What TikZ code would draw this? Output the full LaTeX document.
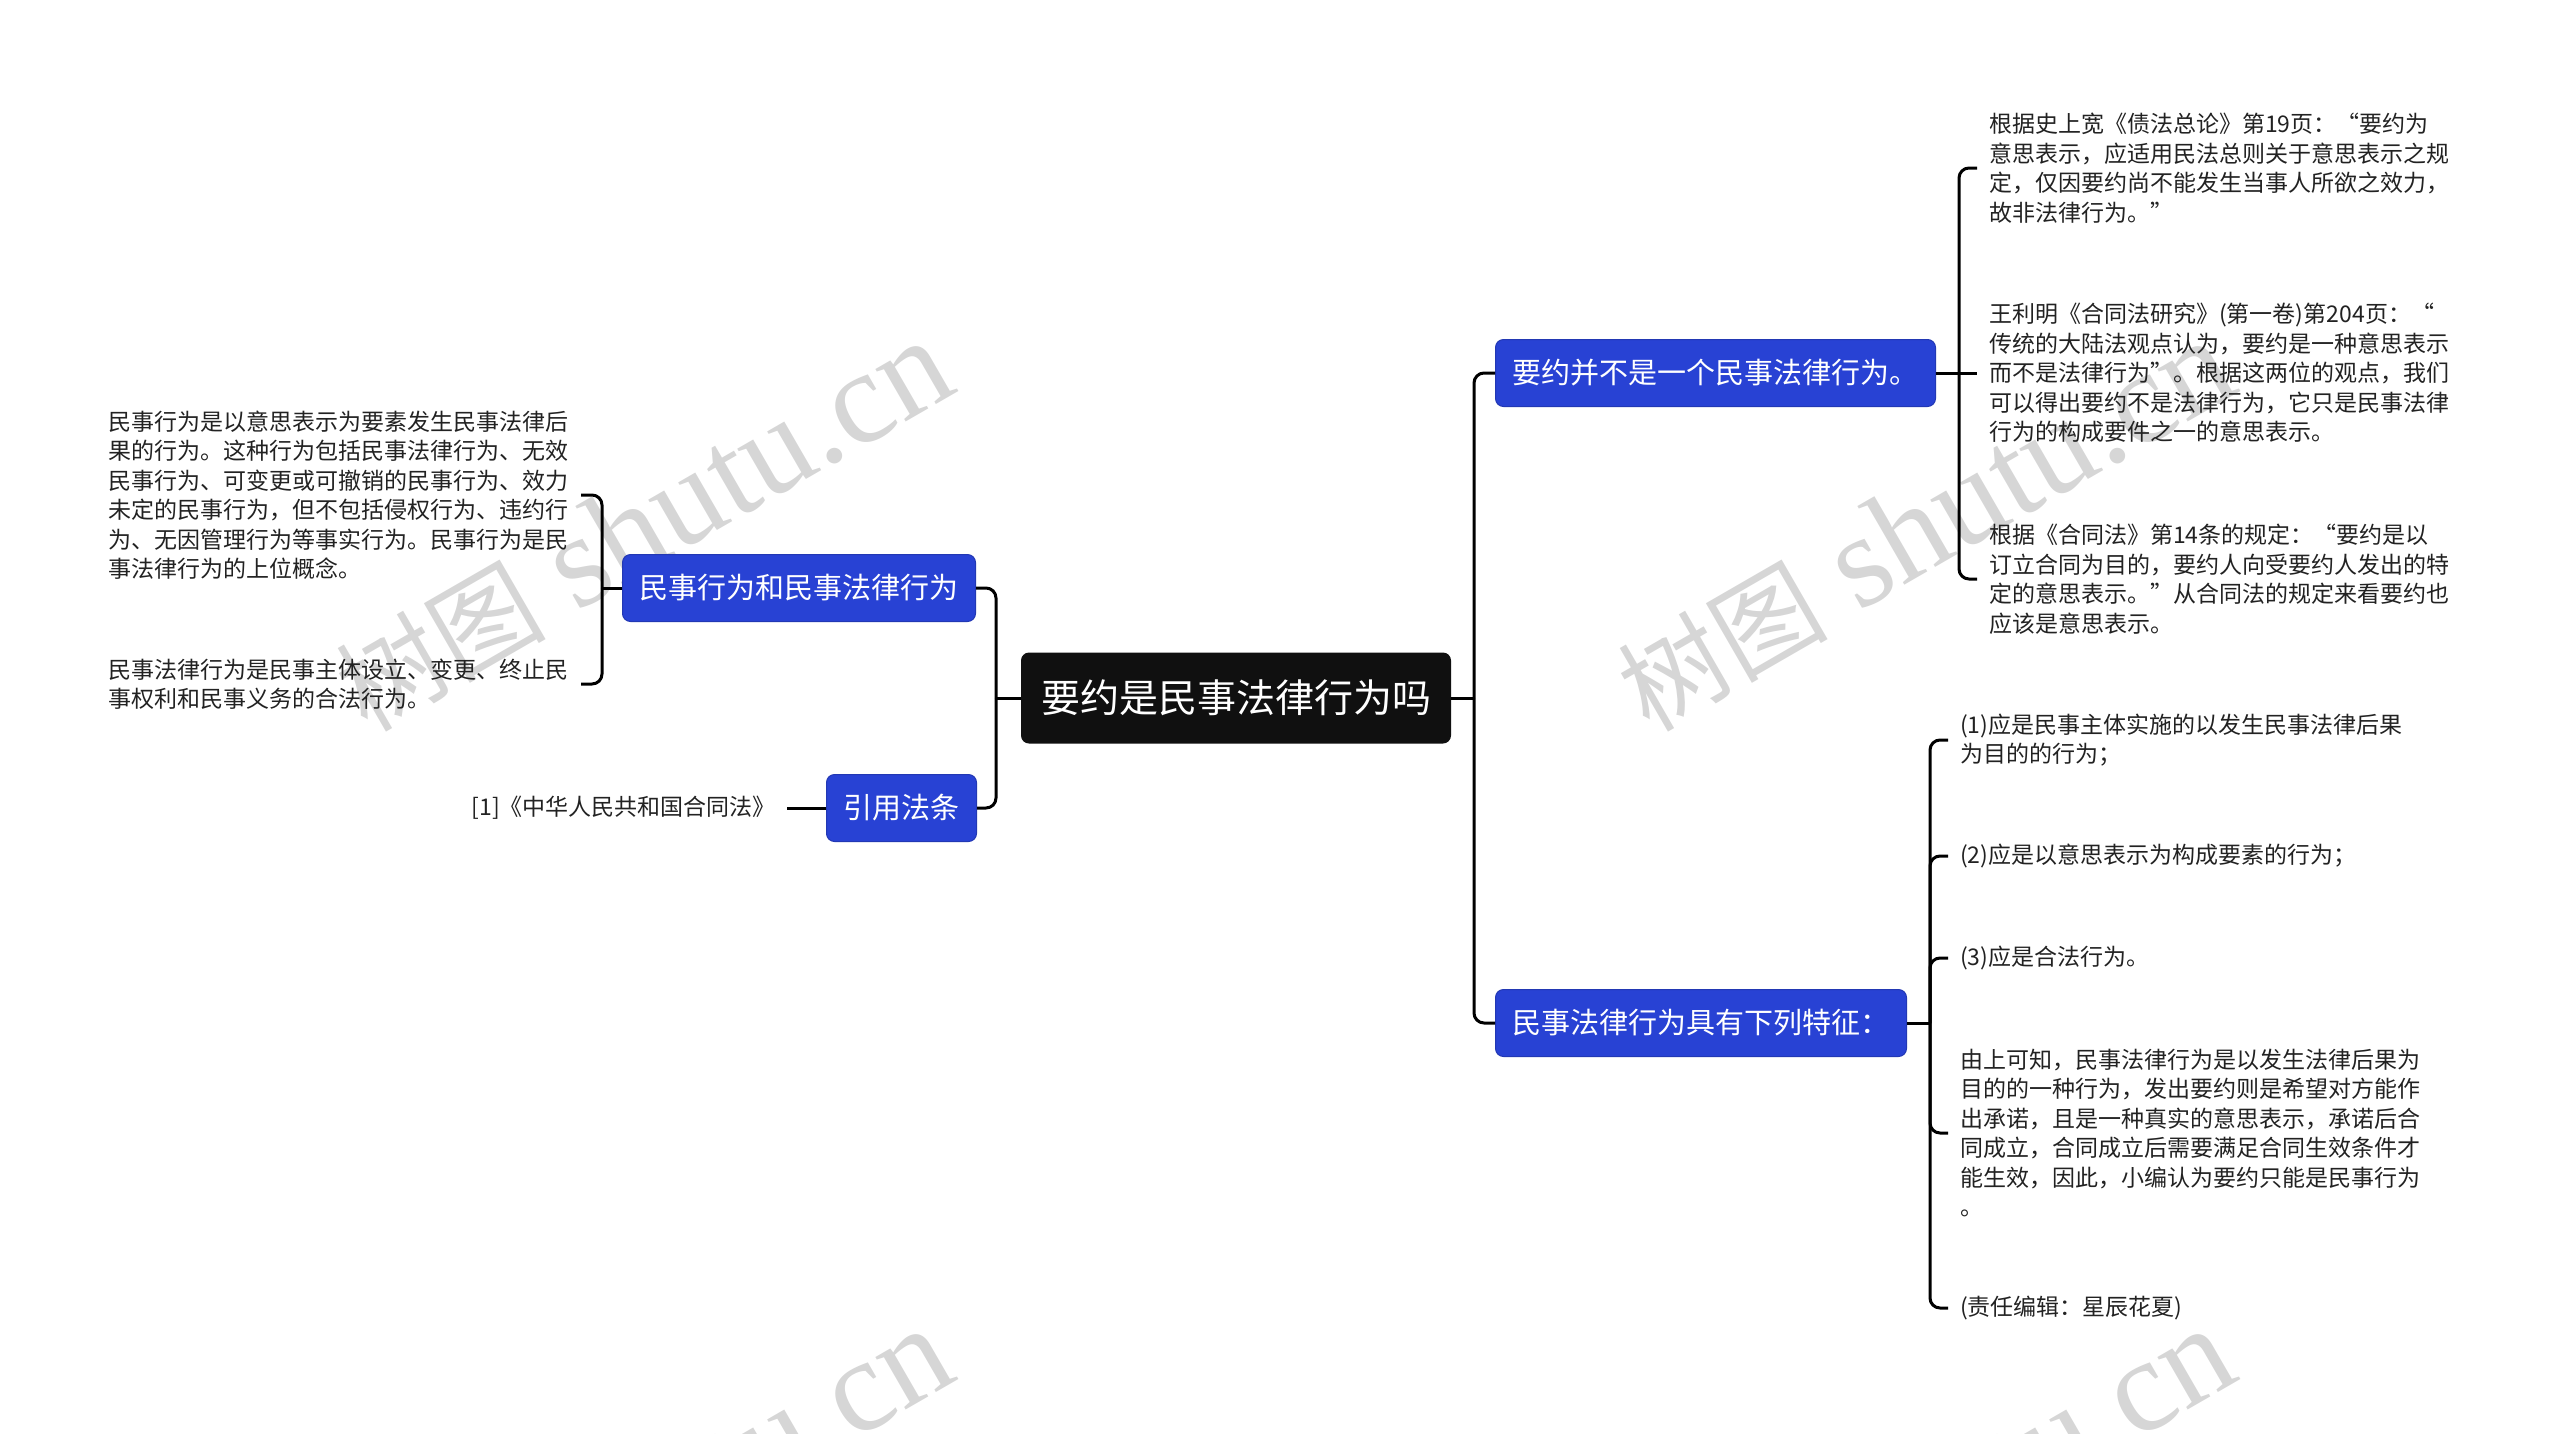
\documentclass[tikz,border=0pt]{standalone}
\usepackage{fontspec}
\setmainfont{Noto Sans CJK SC}
\newfontfamily\wmlatin{Liberation Serif}
\definecolor{bblue}{RGB}{40,66,212}
\definecolor{rootc}{RGB}{16,16,16}
\definecolor{wmc}{RGB}{214,214,214}
\definecolor{leafc}{RGB}{34,34,34}
\tikzset{
  conn/.style={line width=3pt, draw=black},
  rconn/.style={conn, rounded corners=10pt},
  rootbox/.style={fill=rootc, text=white, rounded corners=8pt, font=\fontsize{39}{45}\selectfont, inner xsep=20pt, inner ysep=0pt, minimum height=91pt},
  bbox/.style={fill=bblue, draw=bblue!85!black, line width=1pt, text=white, rounded corners=8pt, font=\fontsize{29}{34}\selectfont, inner xsep=17pt, inner ysep=0pt, minimum height=67pt},
  leaf/.style={font=\fontsize{23}{29.5}\selectfont, align=left, inner xsep=12pt, inner ysep=3pt, text=leafc},
  wmark/.style={text=wmc, rotate=30, inner sep=0pt}
}
\begin{document}
\begin{tikzpicture}[x=1pt,y=-1pt]
\useasboundingbox (0,0) rectangle (2560,1433);
\begin{scope}
\clip (0,0) rectangle (2560,1433);
\node[wmark] (wm1) at (643,526) {\fontsize{105}{110}\selectfont 树图\hspace{0.3em}{\wmlatin\fontsize{132}{140}\selectfont shutu.cn}};
\node[wmark] (wm2) at (1925,526) {\fontsize{105}{110}\selectfont 树图\hspace{0.3em}{\wmlatin\fontsize{132}{140}\selectfont shutu.cn}};
\node[wmark] (wm3) at (643,1514) {\fontsize{105}{110}\selectfont 树图\hspace{0.3em}{\wmlatin\fontsize{132}{140}\selectfont shutu.cn}};
\node[wmark] (wm4) at (1925,1514) {\fontsize{105}{110}\selectfont 树图\hspace{0.3em}{\wmlatin\fontsize{132}{140}\selectfont shutu.cn}};
\end{scope}

% root and branches
\node[rootbox] (root) at (1236,698) {要约是民事法律行为吗};
\node[bbox, anchor=east] (bl1) at (976,588) {民事行为和民事法律行为};
\node[bbox, anchor=east] (bl2) at (977,808) {引用法条};
\node[bbox, anchor=west] (br1) at (1495,373) {要约并不是一个民事法律行为。};
\node[bbox, anchor=west] (br2) at (1495,1023) {民事法律行为具有下列特征：};

% left leaves
\node[leaf, anchor=east] (lt1) at (581,495) {民事行为是以意思表示为要素发生民事法律后\\果的行为。这种行为包括民事法律行为、无效\\民事行为、可变更或可撤销的民事行为、效力\\未定的民事行为，但不包括侵权行为、违约行\\为、无因管理行为等事实行为。民事行为是民\\事法律行为的上位概念。};
\node[leaf, anchor=east] (lt2) at (581,684) {民事法律行为是民事主体设立、变更、终止民\\事权利和民事义务的合法行为。};
\node[leaf, anchor=east, inner xsep=11pt] (cite) at (787,808) {{[1]}《中华人民共和国合同法》};

% right top leaves
\node[leaf, anchor=west] (rt1) at (1977,168) {根据史上宽《债法总论》第19页：“要约为\\意思表示，应适用民法总则关于意思表示之规\\定，仅因要约尚不能发生当事人所欲之效力，\\故非法律行为。”};
\node[leaf, anchor=west] (rt2) at (1977,373) {王利明《合同法研究》(第一卷)第204页：“\\传统的大陆法观点认为，要约是一种意思表示\\而不是法律行为”。根据这两位的观点，我们\\可以得出要约不是法律行为，它只是民事法律\\行为的构成要件之一的意思表示。};
\node[leaf, anchor=west] (rt3) at (1977,579) {根据《合同法》第14条的规定：“要约是以\\订立合同为目的，要约人向受要约人发出的特\\定的意思表示。”从合同法的规定来看要约也\\应该是意思表示。};

% right bottom leaves
\node[leaf, anchor=west] (c1) at (1948,740) {(1)应是民事主体实施的以发生民事法律后果\\为目的的行为；};
\node[leaf, anchor=west] (c2) at (1948,856) {(2)应是以意思表示为构成要素的行为；};
\node[leaf, anchor=west] (c3) at (1948,958) {(3)应是合法行为。};
\node[leaf, anchor=west] (c4) at (1948,1133) {由上可知，民事法律行为是以发生法律后果为\\目的的一种行为，发出要约则是希望对方能作\\出承诺，且是一种真实的意思表示，承诺后合\\同成立，合同成立后需要满足合同生效条件才\\能生效，因此，小编认为要约只能是民事行为\\。};
\node[leaf, anchor=west] (c5) at (1948,1308) {(责任编辑：星辰花夏)};

% junctions
\coordinate (jr) at (1474,698);
\coordinate (jl) at (996,698);
\coordinate (jb1) at (602,588);
\coordinate (jb2) at (1959,373);
\coordinate (jb3) at (1930,1023);

% root connectors
\draw[conn] (root.east) -- (jr);
\draw[rconn] (jr) |- (br1.west);
\draw[rconn] (jr) |- (br2.west);
\draw[conn] (root.west) -- (jl);
\draw[rconn] (jl) |- (bl1.east);
\draw[rconn] (jl) |- (bl2.east);

% left brackets
\draw[conn] (bl1.west) -- (jb1);
\draw[rconn] (jb1) |- (lt1.east);
\draw[rconn] (jb1) |- (lt2.east);
\draw[conn] (bl2.west) -- (cite.east);

% right top bracket
\draw[conn] (br1.east) -- (jb2);
\draw[rconn] (jb2) |- (rt1.west);
\draw[conn] (jb2) -- (rt2.west);
\draw[rconn] (jb2) |- (rt3.west);

% right bottom bracket
\draw[conn] (br2.east) -- (jb3);
\draw[rconn] (jb3) |- (c1.west);
\draw[rconn] (jb3) |- (c2.west);
\draw[rconn] (jb3) |- (c3.west);
\draw[rconn] (jb3) |- (c4.west);
\draw[rconn] (jb3) |- (c5.west);
\end{tikzpicture}
\end{document}
